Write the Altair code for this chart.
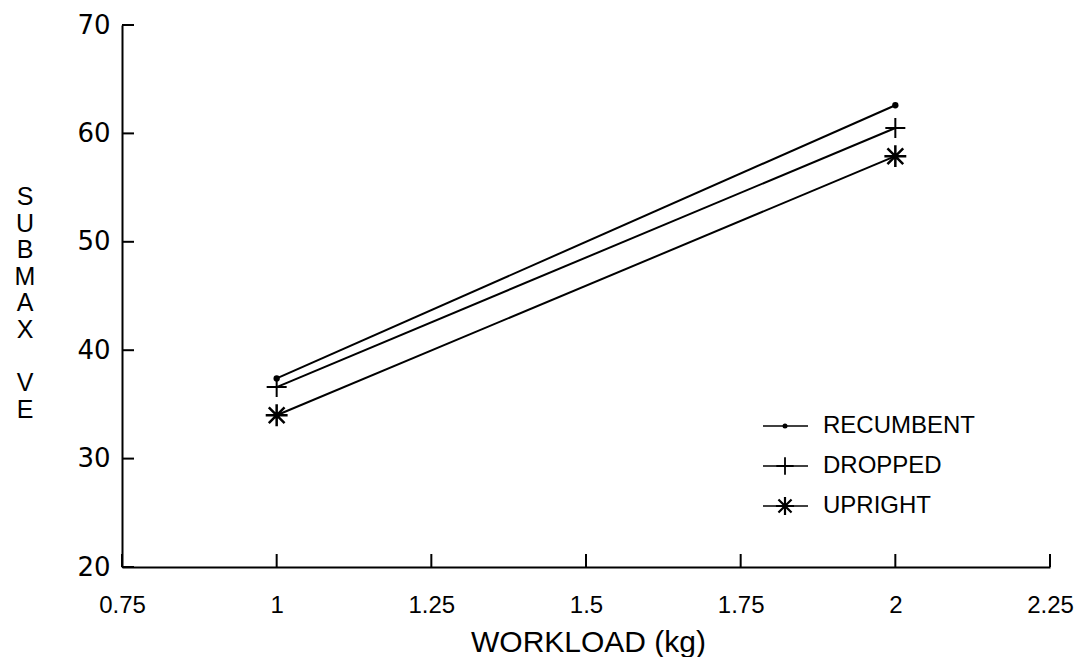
import altair as alt
import pandas as pd

# ---- data ----
workload = [1, 2]
series = ["RECUMBENT", "DROPPED", "UPRIGHT"]
recumbent = [37.4, 62.6]
dropped = [36.6, 60.5]
upright = [34.0, 57.9]
x_ticks = [0.75, 1, 1.25, 1.5, 1.75, 2, 2.25]
y_ticks = [20, 30, 40, 50, 60, 70]
y_title_words = ["SUBMAX", "VE"]
x_title = "WORKLOAD (kg)"

rows = []
for name, vals in zip(series, [recumbent, dropped, upright]):
    for w, v in zip(workload, vals):
        rows.append({"series": name, "workload": w, "ve": v})
df = pd.DataFrame(rows)

W, H = 928, 542
FONT = "Liberation Sans"
LINE_H = 26.6
xs = alt.Scale(domain=[0.75, 2.25], nice=False, zero=False)
ys = alt.Scale(domain=[20, 70], nice=False, zero=False)

x_axis = alt.Axis(values=x_ticks, labelExpr="'' + datum.value", grid=False, ticks=False, tickSize=0,
                  domainColor="black", domainWidth=2, labelColor="black",
                  labelFont=FONT, labelFontSize=24, labelPadding=26, labelBaseline="top",
                  labelFlush=False, labelOverlap=False,
                  title=x_title, titleFont=FONT, titleFontSize=30, titleFontWeight="normal",
                  titleColor="black", titleX=466, titleY=84, titleBaseline="alphabetic",
                  titleAlign="center")
y_axis = alt.Axis(values=y_ticks, format="d", grid=False, ticks=False, tickSize=0,
                  domainColor="black", domainWidth=2, labelColor="black",
                  labelFont="DejaVu Sans", labelFontSize=26, labelPadding=12,
                  labelBaseline="middle", labelFlush=False, labelOverlap=False,
                  title=None)

X = alt.X("workload:Q", scale=xs, axis=x_axis)
Y = alt.Y("ve:Q", scale=ys, axis=y_axis)

CROSS = "M-1,0H1M0,-1V1"
STAR = "M-1,0H1M0,-1V1M-0.72,-0.72L0.72,0.72M-0.72,0.72L0.72,-0.72"

lines = alt.Chart(df).mark_line(color="black", strokeWidth=2).encode(x=X, y=Y, detail="series:N")

def marker(name, shape, size, filled, sw):
    if filled:
        return alt.Chart(df).transform_filter(alt.datum.series == name).mark_point(
            shape=shape, size=size, filled=True, color="black", opacity=1
        ).encode(x=X, y=Y)
    return alt.Chart(df).transform_filter(alt.datum.series == name).mark_point(
        shape=shape, size=size, filled=False, color="black", strokeWidth=sw, opacity=1
    ).encode(x=X, y=Y)

pts = [
    marker("RECUMBENT", "circle", 40, True, 1),
    marker("DROPPED", CROSS, 400, False, 2),
    marker("UPRIGHT", STAR, 480, False, 2.5),
]

xt = alt.Chart(pd.DataFrame({"workload": x_ticks})).mark_rule(color="black", strokeWidth=2).encode(
    x=X, y=alt.value(H), y2=alt.value(H - 13))
yt = alt.Chart(pd.DataFrame({"ve": y_ticks})).mark_rule(color="black", strokeWidth=2).encode(
    y=Y, x=alt.value(0), x2=alt.value(12))

# ---- vertical stacked y title (two words, letters stacked) ----
title_layers = []
ty = 160
for word in y_title_words:
    d = pd.DataFrame({"w": [word]})
    title_layers.append(alt.Chart(d).mark_text(
        align="center", baseline="top", font=FONT, fontSize=25, color="black",
        lineHeight=LINE_H).encode(text=alt.value(list(word)), x=alt.value(-97), y=alt.value(ty)))
    ty += (len(word) + 1) * LINE_H

# ---- manual legend ----
leg_rows = [401, 441, 481]
leg_shapes = [("circle", 25, True, 1), (CROSS, 300, False, 1.8), (STAR, 330, False, 2.2)]
legend_layers = []
for name, ly, (shp, sz, fl, sw) in zip(series, leg_rows, leg_shapes):
    d = pd.DataFrame({"label": [name]})
    legend_layers.append(alt.Chart(d).mark_rule(color="black", strokeWidth=1.5).encode(
        x=alt.value(641), x2=alt.value(686), y=alt.value(ly)))
    if fl:
        m = alt.Chart(d).mark_point(shape=shp, size=sz, filled=True, color="black", opacity=1)
    else:
        m = alt.Chart(d).mark_point(shape=shp, size=sz, filled=False, color="black",
                                    strokeWidth=sw, opacity=1)
    legend_layers.append(m.encode(x=alt.value(663), y=alt.value(ly)))
    legend_layers.append(alt.Chart(d).mark_text(align="left", baseline="middle", font=FONT,
                                                fontSize=24, color="black").encode(
        text="label:N", x=alt.value(701), y=alt.value(ly)))

chart = alt.layer(lines, *pts, xt, yt, *title_layers, *legend_layers).properties(
    width=W, height=H,
    background="white",
    autosize=alt.AutoSizeParams(type="none"),
    padding={"left": 114, "top": 17, "right": 24, "bottom": 90},
).configure_view(stroke="transparent", strokeWidth=0)

chart.save("out.html", embed_options={"renderer": "svg", "actions": False})
